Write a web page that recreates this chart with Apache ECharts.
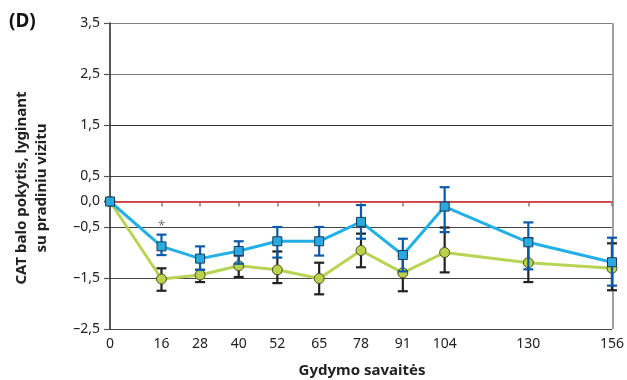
<!DOCTYPE html>
<html><head><meta charset="utf-8">
<script src="https://cdn.jsdelivr.net/npm/echarts@6/dist/echarts.min.js"></script>
<style>html,body{margin:0;padding:0;background:#fff}#c{width:627px;height:380px}</style>
</head><body><div id="c"></div>
<script>
const weeks = [0, 16, 28, 40, 52, 65, 78, 91, 104, 130, 156];
const blueMean = [0, -0.88, -1.12, -0.97, -0.78, -0.78, -0.40, -1.05, -0.10, -0.80, -1.19];
const blueErr  = [0, 0.20, 0.23, 0.22, 0.30, 0.28, 0.33, 0.32, 0.44, 0.46, 0.47];
const greenMean = [0, -1.52, -1.44, -1.26, -1.34, -1.51, -0.96, -1.40, -1.00, -1.20, -1.31];
const greenErrCenter = [0, -1.53, -1.46, -1.27, -1.29, -1.51, -0.96, -1.41, -0.95, -1.15, -1.28];
const greenErr = [0, 0.22, 0.12, 0.21, 0.31, 0.31, 0.33, 0.35, 0.44, 0.43, 0.46];
const blueErrCenter = [0, -0.85, -1.11, -1.00, -0.80, -0.78, -0.40, -1.05, -0.16, -0.87, -1.18];
const yTicks = [-2.5, -1.5, -0.5, 0, 0.5, 1.5, 2.5, 3.5];

const font = 'Noto Sans';
const fmt = v => (v < 0 ? '\u2013' : '') + Math.abs(v).toFixed(1).replace('.', ',');

function errSeries(name, centers, errs, color, z) {
  return {
    type: 'custom', name, z,
    data: weeks.map((w, i) => [w, centers[i] - errs[i], centers[i] + errs[i]]).filter((d, i) => errs[i] > 0),
    renderItem(params, api) {
      const x = api.value(0);
      const lo = api.coord([x, api.value(1)]);
      const hi = api.coord([x, api.value(2)]);
      const hw = 5;
      const st = { stroke: color, lineWidth: 2.2 };
      return { type: 'group', children: [
        { type: 'line', shape: { x1: lo[0], y1: lo[1], x2: hi[0], y2: hi[1] }, style: st },
        { type: 'line', shape: { x1: lo[0] - hw, y1: lo[1], x2: lo[0] + hw, y2: lo[1] }, style: st },
        { type: 'line', shape: { x1: hi[0] - hw, y1: hi[1], x2: hi[0] + hw, y2: hi[1] }, style: st }
      ]};
    },
    encode: { x: 0, y: [1, 2] },
    silent: true
  };
}

const chart = echarts.init(document.getElementById('c'));
chart.setOption({
  animation: false,
  grid: { left: 110, right: 14, top: 23, bottom: 51 },
  xAxis: {
    type: 'value', min: 0, max: 156,
    axisLine: { show: true, lineStyle: { color: '#808080', width: 1.5 } },
    axisTick: { show: true, customValues: weeks, length: 5, lineStyle: { color: '#808080', width: 1.5 } },
    axisLabel: { customValues: weeks, color: '#222', fontFamily: font, fontSize: 14, margin: 8 },
    splitLine: { show: false }
  },
  yAxis: {
    type: 'value', min: -2.5, max: 3.5,
    axisLine: { show: true, onZero: false, lineStyle: { color: '#222', width: 1.5 } },
    axisTick: { show: true, customValues: yTicks, length: 6, lineStyle: { color: '#555', width: 1.2 } },
    axisLabel: { customValues: yTicks, formatter: fmt, color: '#222', fontFamily: font, fontSize: 14, margin: 10 },
    splitLine: { show: true, lineStyle: { color: ['#444', '#444', '#444', '#444', '#444', '#333', '#777', '#808080'], width: 1.2 } }
  },
  graphic: [
    { type: 'text', left: 9, top: 12, style: { text: '(D)', font: 'bold 19px "Noto Sans"', fill: '#111' } },
    { type: 'text', x: 32, y: 188, rotation: Math.PI / 2,
      style: { text: 'CAT balo pokytis, lyginant\nsu pradiniu vizitu', font: 'bold 15px "Noto Sans"', fill: '#222',
        align: 'center', verticalAlign: 'middle', lineHeight: 20 } },
    { type: 'text', x: 362, y: 371, style: { text: 'Gydymo savait\u0117s', font: 'bold 15px "Noto Sans"', fill: '#222',
        align: 'center', verticalAlign: 'middle' } },
    { type: 'line', shape: { x1: 613, y1: 23, x2: 613, y2: 329 }, style: { stroke: '#808080', lineWidth: 1.5 }, z: 1 }
  ],
  series: [
    {
      type: 'line', name: 'zero', data: [], z: 1,
      markLine: { silent: true, symbol: 'none', label: { show: false },
        lineStyle: { color: '#e8383d', width: 1.5, type: 'solid' }, data: [{ yAxis: 0 }] }
    },
    errSeries('greenErr', greenErrCenter, greenErr, '#222', 3),
    {
      type: 'line', name: 'green', z: 4,
      data: weeks.map((w, i) => [w, greenMean[i]]),
      lineStyle: { color: '#b8d454', width: 3 },
      symbol: 'circle', symbolSize: 10,
      itemStyle: { color: '#bcd24a', borderColor: '#4a4a2a', borderWidth: 1 }
    },
    errSeries('blueErr', blueErrCenter, blueErr, '#0a5aa8', 5),
    {
      type: 'line', name: 'blue', z: 6,
      data: weeks.map((w, i) => [w, blueMean[i]]),
      lineStyle: { color: '#22b0e6', width: 3 },
      symbol: 'rect', symbolSize: 9,
      itemStyle: { color: '#29a9df', borderColor: '#1a3a5a', borderWidth: 1 },
      markPoint: { symbol: 'circle', symbolSize: 0, label: { show: true, formatter: '*', color: '#777', fontSize: 13, fontFamily: font },
        data: [{ coord: [16, -0.49] }] }
    }
  ]
});
</script></body></html>
